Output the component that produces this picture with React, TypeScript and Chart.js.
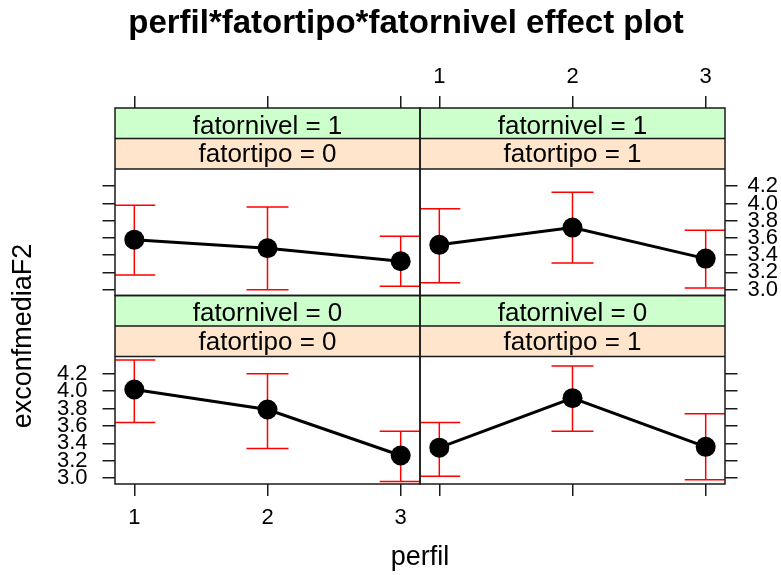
import React, { useEffect, useRef } from 'react';
import { Chart, registerables } from 'chart.js';

Chart.register(...registerables);

// ---------- data ----------
const perfil = [1, 2, 3];
const xTickValues = [1, 2, 3];
const yTickValues = [3.0, 3.2, 3.4, 3.6, 3.8, 4.0, 4.2];
const xRange = [0.855, 3.145];
const yRange = [2.932, 4.4];

// fatornivel = 1, fatortipo = 0
const fitN1T0 = [3.58, 3.48, 3.33];
const lowN1T0 = [3.17, 3.0, 3.04];
const uppN1T0 = [3.98, 3.96, 3.62];
// fatornivel = 1, fatortipo = 1
const fitN1T1 = [3.52, 3.72, 3.36];
const lowN1T1 = [3.08, 3.31, 3.02];
const uppN1T1 = [3.94, 4.13, 3.69];
// fatornivel = 0, fatortipo = 0
const fitN0T0 = [4.02, 3.79, 3.26];
const lowN0T0 = [3.64, 3.34, 2.96];
const uppN0T0 = [4.36, 4.2, 3.54];
// fatornivel = 0, fatortipo = 1
const fitN0T1 = [3.35, 3.92, 3.36];
const lowN0T1 = [3.02, 3.54, 2.98];
const uppN0T1 = [3.64, 4.29, 3.74];

const titleText = 'perfil*fatortipo*fatornivel effect plot';
const xLabel = 'perfil';
const yLabel = 'exconfmediaF2';

// ---------- layout / style ----------
const FONT = "'Liberation Sans', Arial, Helvetica, sans-serif";
const G = { L: 115, M: 420, R: 725, T: 108, MID: 295.5, B: 484, STRIP: 30.5 };
const rows = [
  { top: G.T, dataTop: G.T + 2 * G.STRIP, bottom: G.MID },
  { top: G.MID, dataTop: G.MID + 2 * G.STRIP, bottom: G.B },
];
const cols = [
  { left: G.L, right: G.M },
  { left: G.M, right: G.R },
];

const panels = [
  { x: 'xTL', y: 'yTL', row: 0, col: 0, nivel: '1', tipo: '0', fit: fitN1T0, lower: lowN1T0, upper: uppN1T0 },
  { x: 'xTR', y: 'yTR', row: 0, col: 1, nivel: '1', tipo: '1', fit: fitN1T1, lower: lowN1T1, upper: uppN1T1 },
  { x: 'xBL', y: 'yBL', row: 1, col: 0, nivel: '0', tipo: '0', fit: fitN0T0, lower: lowN0T0, upper: uppN0T0 },
  { x: 'xBR', y: 'yBR', row: 1, col: 1, nivel: '0', tipo: '1', fit: fitN0T1, lower: lowN0T1, upper: uppN0T1 },
];

const AXIS_COL = '#1a1a1a';

function xScale(position: string, show: boolean, pad: number) {
  return {
    type: 'linear',
    position,
    min: xRange[0],
    max: xRange[1],
    afterBuildTicks: (sc: any) => {
      sc.ticks = xTickValues.map((v) => ({ value: v }));
    },
    grid: { drawOnChartArea: false, drawTicks: true, tickLength: 12, color: AXIS_COL, lineWidth: 1.5 },
    border: { display: false },
    ticks: {
      display: show,
      autoSkip: false,
      maxRotation: 0,
      padding: pad,
      color: '#000',
      font: { family: FONT, size: 22 },
      callback: (v: any) => String(v),
    },
  };
}

function yScale(position: string, show: boolean, pad: number) {
  return {
    type: 'linear',
    position,
    min: yRange[0],
    max: yRange[1],
    afterBuildTicks: (sc: any) => {
      sc.ticks = yTickValues.map((v) => ({ value: v }));
    },
    grid: { drawOnChartArea: false, drawTicks: true, tickLength: 12.5, color: AXIS_COL, lineWidth: 1.5 },
    border: { display: false },
    ticks: {
      display: show,
      autoSkip: false,
      padding: pad,
      color: '#000',
      font: { family: FONT, size: 22 },
      callback: (v: any) => Number(v).toFixed(1),
    },
  };
}

function place(sc: any, left: number, right: number, top: number, bottom: number) {
  if (!sc) return;
  sc.left = left;
  sc.right = right;
  sc.top = top;
  sc.bottom = bottom;
  sc.width = right - left;
  sc.height = bottom - top;
  sc.configure();
}

const latticePlugin = {
  id: 'lattice',
  afterLayout(chart: any) {
    const s = chart.scales;
    place(s.xTL, G.L, G.M, G.T - 60, G.T);
    place(s.xTR, G.M, G.R, G.T - 60, G.T);
    place(s.xBL, G.L, G.M, G.B, G.B + 60);
    place(s.xBR, G.M, G.R, G.B, G.B + 60);
    place(s.yTL, G.L - 70, G.L, rows[0].dataTop, rows[0].bottom);
    place(s.yBL, G.L - 70, G.L, rows[1].dataTop, rows[1].bottom);
    place(s.yTR, G.R, G.R + 56, rows[0].dataTop, rows[0].bottom);
    place(s.yBR, G.R, G.R + 56, rows[1].dataTop, rows[1].bottom);
  },
  beforeDatasetsDraw(chart: any) {
    const ctx = chart.ctx;
    ctx.save();
    // strips
    panels.forEach((p) => {
      const r = rows[p.row];
      const c = cols[p.col];
      const w = c.right - c.left;
      ctx.fillStyle = '#ccffcc';
      ctx.fillRect(c.left, r.top, w, G.STRIP);
      ctx.fillStyle = '#ffe5cc';
      ctx.fillRect(c.left, r.top + G.STRIP, w, G.STRIP);
      ctx.fillStyle = '#000';
      ctx.font = `26px ${FONT}`;
      ctx.textAlign = 'center';
      ctx.textBaseline = 'alphabetic';
      const cx = (c.left + c.right) / 2;
      ctx.fillText(`fatornivel = ${p.nivel}`, cx, r.top + 25.5);
      ctx.fillText(`fatortipo = ${p.tipo}`, cx, r.top + G.STRIP + 23.5);
    });
    // error bars
    panels.forEach((p) => {
      const xs = chart.scales[p.x];
      const ys = chart.scales[p.y];
      ctx.save();
      ctx.beginPath();
      ctx.rect(xs.left, ys.top, xs.right - xs.left, ys.bottom - ys.top);
      ctx.clip();
      ctx.strokeStyle = '#ff0000';
      ctx.lineWidth = 1.5;
      perfil.forEach((v, i) => {
        const x = xs.getPixelForValue(v);
        const y1 = ys.getPixelForValue(p.lower[i]);
        const y2 = ys.getPixelForValue(p.upper[i]);
        ctx.beginPath();
        ctx.moveTo(x, y1);
        ctx.lineTo(x, y2);
        ctx.moveTo(x - 21, y1);
        ctx.lineTo(x + 21, y1);
        ctx.moveTo(x - 21, y2);
        ctx.lineTo(x + 21, y2);
        ctx.stroke();
      });
      ctx.restore();
    });
    ctx.restore();
  },
  afterDatasetsDraw(chart: any) {
    const ctx = chart.ctx;
    ctx.save();
    ctx.strokeStyle = AXIS_COL;
    ctx.lineWidth = 1.5;
    panels.forEach((p) => {
      const r = rows[p.row];
      const c = cols[p.col];
      ctx.strokeRect(c.left, r.top, c.right - c.left, r.bottom - r.top);
      ctx.beginPath();
      ctx.moveTo(c.left, r.top + G.STRIP);
      ctx.lineTo(c.right, r.top + G.STRIP);
      ctx.moveTo(c.left, r.top + 2 * G.STRIP);
      ctx.lineTo(c.right, r.top + 2 * G.STRIP);
      ctx.stroke();
    });
    // axis labels
    ctx.fillStyle = '#000';
    ctx.font = `27px ${FONT}`;
    ctx.textAlign = 'center';
    ctx.textBaseline = 'middle';
    ctx.fillText(xLabel, (G.L + G.R) / 2, 558);
    ctx.translate(24, 336);
    ctx.rotate(-Math.PI / 2);
    ctx.fillText(yLabel, 0, 0);
    ctx.restore();
  },
};

function makeDataset(p: any) {
  return {
    label: `fatornivel=${p.nivel}, fatortipo=${p.tipo}`,
    data: perfil.map((v, i) => ({ x: v, y: p.fit[i] })),
    xAxisID: p.x,
    yAxisID: p.y,
    borderColor: '#000',
    backgroundColor: '#000',
    borderWidth: 3,
    pointRadius: 10,
    pointBackgroundColor: '#000',
    pointBorderColor: '#000',
    pointBorderWidth: 0,
    tension: 0,
    clip: false,
  };
}

export default function App() {
  const ref = useRef<HTMLCanvasElement>(null);
  useEffect(() => {
    if (!ref.current) return;
    const chart = new Chart(ref.current, {
      type: 'line',
      data: { datasets: panels.map(makeDataset) as any },
      options: {
        responsive: false,
        animation: false,
        devicePixelRatio: 1,
        layout: { padding: { left: 31, top: 0 } },
        scales: {
          xTL: xScale('top', false, 5.5),
          xTR: xScale('top', true, 5.5),
          xBL: xScale('bottom', true, 8.5),
          xBR: xScale('bottom', false, 8.5),
          yTL: yScale('left', false, 15),
          yBL: yScale('left', true, 15),
          yTR: yScale('right', true, 10),
          yBR: yScale('right', false, 10),
        } as any,
        plugins: {
          legend: { display: false },
          tooltip: { enabled: false },
          title: {
            display: true,
            text: titleText,
            color: '#000',
            font: { family: FONT, size: 33, weight: 'bold' },
            padding: { top: 4, bottom: 0 },
          },
        },
      } as any,
      plugins: [latticePlugin],
    });
    return () => chart.destroy();
  }, []);
  return (
    <div style={{ position: 'absolute', left: 0, top: 0, width: 781, height: 575, background: '#fff' }}>
      <canvas ref={ref} width={781} height={575} style={{ display: 'block' }} />
    </div>
  );
}
